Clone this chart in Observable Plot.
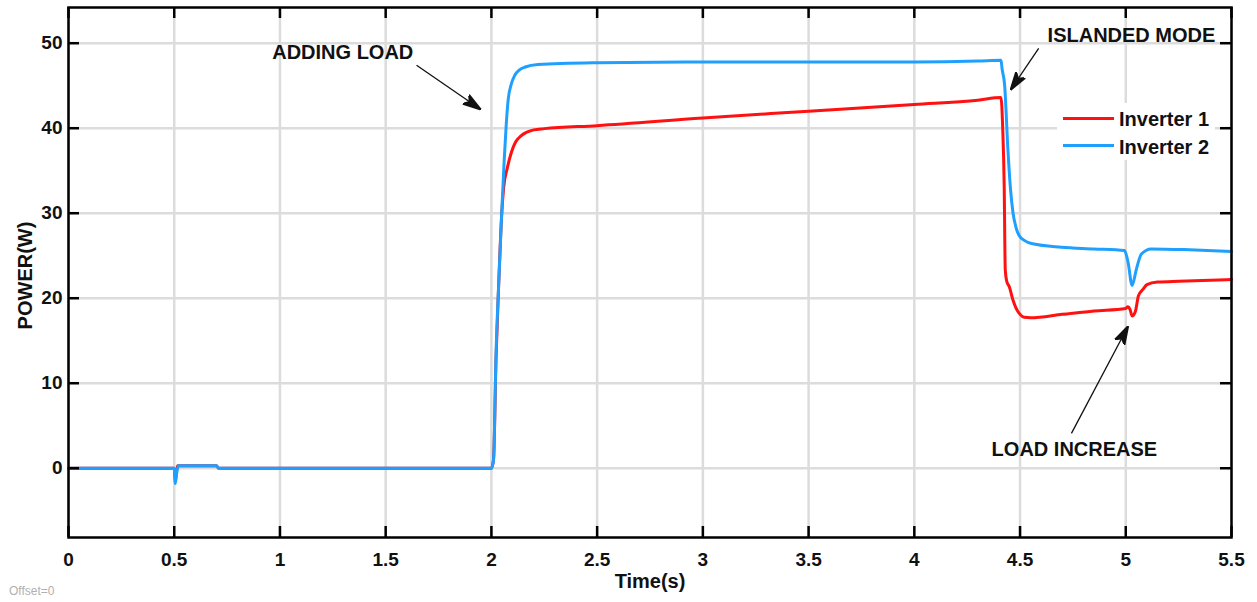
<!DOCTYPE html>
<html>
<head>
<meta charset="utf-8">
<script src="https://cdn.jsdelivr.net/npm/d3@7"></script>
<script src="https://cdn.jsdelivr.net/npm/@observablehq/plot@0.6"></script>
<style>
  body { margin: 0; background: #fff; }
  #wrap { position: relative; width: 1257px; height: 602px; font-family: "Liberation Sans", Arial, sans-serif; }
  #legend { position: absolute; left: 1057px; top: 103px; width: 158px; height: 57px; background: #fff; }
  .lg-line { position: absolute; left: 6px; width: 51px; height: 3px; }
  .lg-text { position: absolute; left: 62px; font-size: 20px; line-height: 20px; font-weight: bold; color: #111; white-space: nowrap; }
  #offset { position: absolute; left: 9px; top: 584px; font-size: 12px; color: #b0b0b0; }
</style>
</head>
<body>
<div id="wrap"></div>
<script>
// ---- data ----
const timeInv1 = [0, 0.5, 0.505, 0.515, 0.525, 0.7, 0.71, 2.0, 2.01, 2.022, 2.035, 2.049, 2.058, 2.075, 2.095, 2.115, 2.14, 2.165, 2.2, 2.25, 2.5, 3.0, 3.5, 4.0, 4.3, 4.41, 4.418, 4.425, 4.43, 4.437, 4.45, 4.465, 4.48, 4.5, 4.52, 4.55, 4.7, 4.85, 5.0, 5.01, 5.02, 5.03, 5.045, 5.06, 5.08, 5.1, 5.15, 5.25, 5.4, 5.5];
const powerInv1 = [0, 0, -1.5, 0.3, 0.3, 0.3, 0, 0, 1.0, 13, 22, 30, 33, 35.3, 37.2, 38.4, 39.1, 39.5, 39.8, 39.95, 40.3, 41.2, 42.0, 42.8, 43.3, 43.6, 40, 33.3, 23.4, 22.0, 21.3, 19.9, 18.9, 18.1, 17.75, 17.7, 18.1, 18.5, 18.8, 19.0, 18.7, 17.9, 18.4, 20.3, 21.0, 21.6, 21.9, 22.0, 22.1, 22.2];

const timeInv2 = [0, 0.5, 0.505, 0.512, 0.52, 0.53, 0.7, 0.71, 2.0, 2.01, 2.022, 2.035, 2.049, 2.06, 2.07, 2.08, 2.093, 2.11, 2.13, 2.16, 2.22, 2.5, 3.0, 3.5, 4.0, 4.3, 4.41, 4.415, 4.427, 4.443, 4.455, 4.467, 4.48, 4.495, 4.52, 4.56, 4.695, 4.85, 4.994, 5.011, 5.03, 5.05, 5.074, 5.12, 5.3, 5.5];
const powerInv2 = [0, 0, -1.8, -0.5, 0.3, 0.3, 0.3, 0, 0, 1, 13.6, 22, 30.2, 36, 40.4, 43.5, 45.1, 46.2, 46.8, 47.2, 47.5, 47.7, 47.8, 47.8, 47.8, 47.9, 48.0, 47.0, 45.1, 37.3, 32.8, 30.0, 28.4, 27.4, 26.8, 26.4, 26.0, 25.8, 25.6, 24.2, 21.5, 23.4, 25.2, 25.8, 25.7, 25.5];

const seriesNames = ["Inverter 1", "Inverter 2"];
const seriesColors = ["#ff1111", "#1fa0ff"];

const xTicks = [0, 0.5, 1, 1.5, 2, 2.5, 3, 3.5, 4, 4.5, 5, 5.5];
const yTicks = [0, 10, 20, 30, 40, 50];
const xDomain = [0, 5.5];
const yDomain = [-8.15, 54.2];

const annotationLabels = ["ADDING LOAD", "ISLANDED MODE", "LOAD INCREASE"];
const annotationT = [1.297, 5.027, 4.757];
const annotationP = [48.9, 50.9, 2.2];
const arrowFromT = [1.646, 4.588, 4.743];
const arrowFromP = [47.4, 49.4, 4.1];
const arrowToT = [1.950, 4.455, 5.011];
const arrowToP = [42.2, 44.5, 16.7];

const xLabel = "Time(s)";
const yLabel = "POWER(W)";

// ---- build tables ----
const inv1 = timeInv1.map((t, i) => ({t, p: powerInv1[i]}));
const inv2 = timeInv2.map((t, i) => ({t, p: powerInv2[i]}));
const notes = annotationLabels.map((label, i) => ({label, t: annotationT[i], p: annotationP[i]}));
const arrows = arrowFromT.map((t, i) => ({t1: t, p1: arrowFromP[i], t2: arrowToT[i], p2: arrowToP[i]}));

const font = '"Liberation Sans", Arial, sans-serif';
const frameW = 1163, frameH = 530, tickLen = 11;

function filledArrow(color, context) {
  const m = d3.create("svg:marker")
    .attr("viewBox", "-12 -6 12 12")
    .attr("markerWidth", 18)
    .attr("markerHeight", 18)
    .attr("markerUnits", "userSpaceOnUse")
    .attr("orient", "auto")
    .attr("refX", 0)
    .attr("refY", 0)
    .attr("fill", color);
  m.append("path").attr("d", "M0,0L-12,-3.6L-9,0L-12,3.6Z");
  return m.node();
}

const chart = Plot.plot({
  width: 1257,
  height: 602,
  marginLeft: 68,
  marginRight: 26,
  marginTop: 7,
  marginBottom: 65,
  style: {fontFamily: font, background: "#fff", overflow: "visible"},
  x: {domain: xDomain, ticks: xTicks},
  y: {domain: yDomain, ticks: yTicks},
  marks: [
    Plot.gridX(xTicks, {stroke: "#dcdcdc", strokeOpacity: 1, strokeWidth: 2.5}),
    Plot.gridY(yTicks, {stroke: "#dcdcdc", strokeOpacity: 1, strokeWidth: 2.5}),
    Plot.line(inv1, {x: "t", y: "p", stroke: seriesColors[0], strokeWidth: 3, strokeLinejoin: "round", curve: "monotone-x"}),
    Plot.line(inv2, {x: "t", y: "p", stroke: seriesColors[1], strokeWidth: 3, strokeLinejoin: "round", curve: "monotone-x"}),
    // inward ticks on all four sides
    Plot.tickX(xTicks, {x: d => d, insetTop: frameH - tickLen, stroke: "#000", strokeWidth: 2.5}),
    Plot.tickX(xTicks, {x: d => d, insetBottom: frameH - tickLen, stroke: "#000", strokeWidth: 2.5}),
    Plot.tickY(yTicks, {y: d => d, insetRight: frameW - tickLen, stroke: "#000", strokeWidth: 2.5}),
    Plot.tickY(yTicks, {y: d => d, insetLeft: frameW - tickLen, stroke: "#000", strokeWidth: 2.5}),
    Plot.frame({stroke: "#000", strokeWidth: 2.5}),
    Plot.axisX(xTicks, {tickSize: 0, tickPadding: 15, tickFormat: d => String(d), fontSize: 19, fontWeight: "bold", fill: "#111", label: null}),
    Plot.axisY(yTicks, {tickSize: 0, tickPadding: 6, tickFormat: d => String(d), fontSize: 19, fontWeight: "bold", fill: "#111", label: null}),
    Plot.text([xLabel], {frameAnchor: "bottom", dy: 50, text: d => d, fontSize: 20, fontWeight: "bold", fill: "#111"}),
    Plot.text([yLabel], {frameAnchor: "left", dx: -43, dy: 3, rotate: -90, textAnchor: "middle", text: d => d, fontSize: 20, fontWeight: "bold", fill: "#111"}),
    Plot.link(arrows, {x1: "t1", y1: "p1", x2: "t2", y2: "p2", stroke: "#111", strokeWidth: 1.3, markerEnd: filledArrow}),
    Plot.text(notes, {x: "t", y: "p", text: "label", fontSize: 20, fontWeight: "bold", fill: "#111"})
  ]
});

const wrap = document.getElementById("wrap");
wrap.appendChild(chart);

// legend (inside the plot area, upper right)
const legend = document.createElement("div");
legend.id = "legend";
const tops = [15, 42];
const textTops = [6, 34];
seriesNames.forEach((name, i) => {
  const ln = document.createElement("div");
  ln.className = "lg-line";
  ln.style.top = (tops[i] - 1.5) + "px";
  ln.style.background = seriesColors[i];
  legend.appendChild(ln);
  const tx = document.createElement("div");
  tx.className = "lg-text";
  tx.style.top = textTops[i] + "px";
  tx.textContent = name;
  legend.appendChild(tx);
});
wrap.appendChild(legend);

const off = document.createElement("div");
off.id = "offset";
off.textContent = "Offset=0";
wrap.appendChild(off);
</script>
</body>
</html>
